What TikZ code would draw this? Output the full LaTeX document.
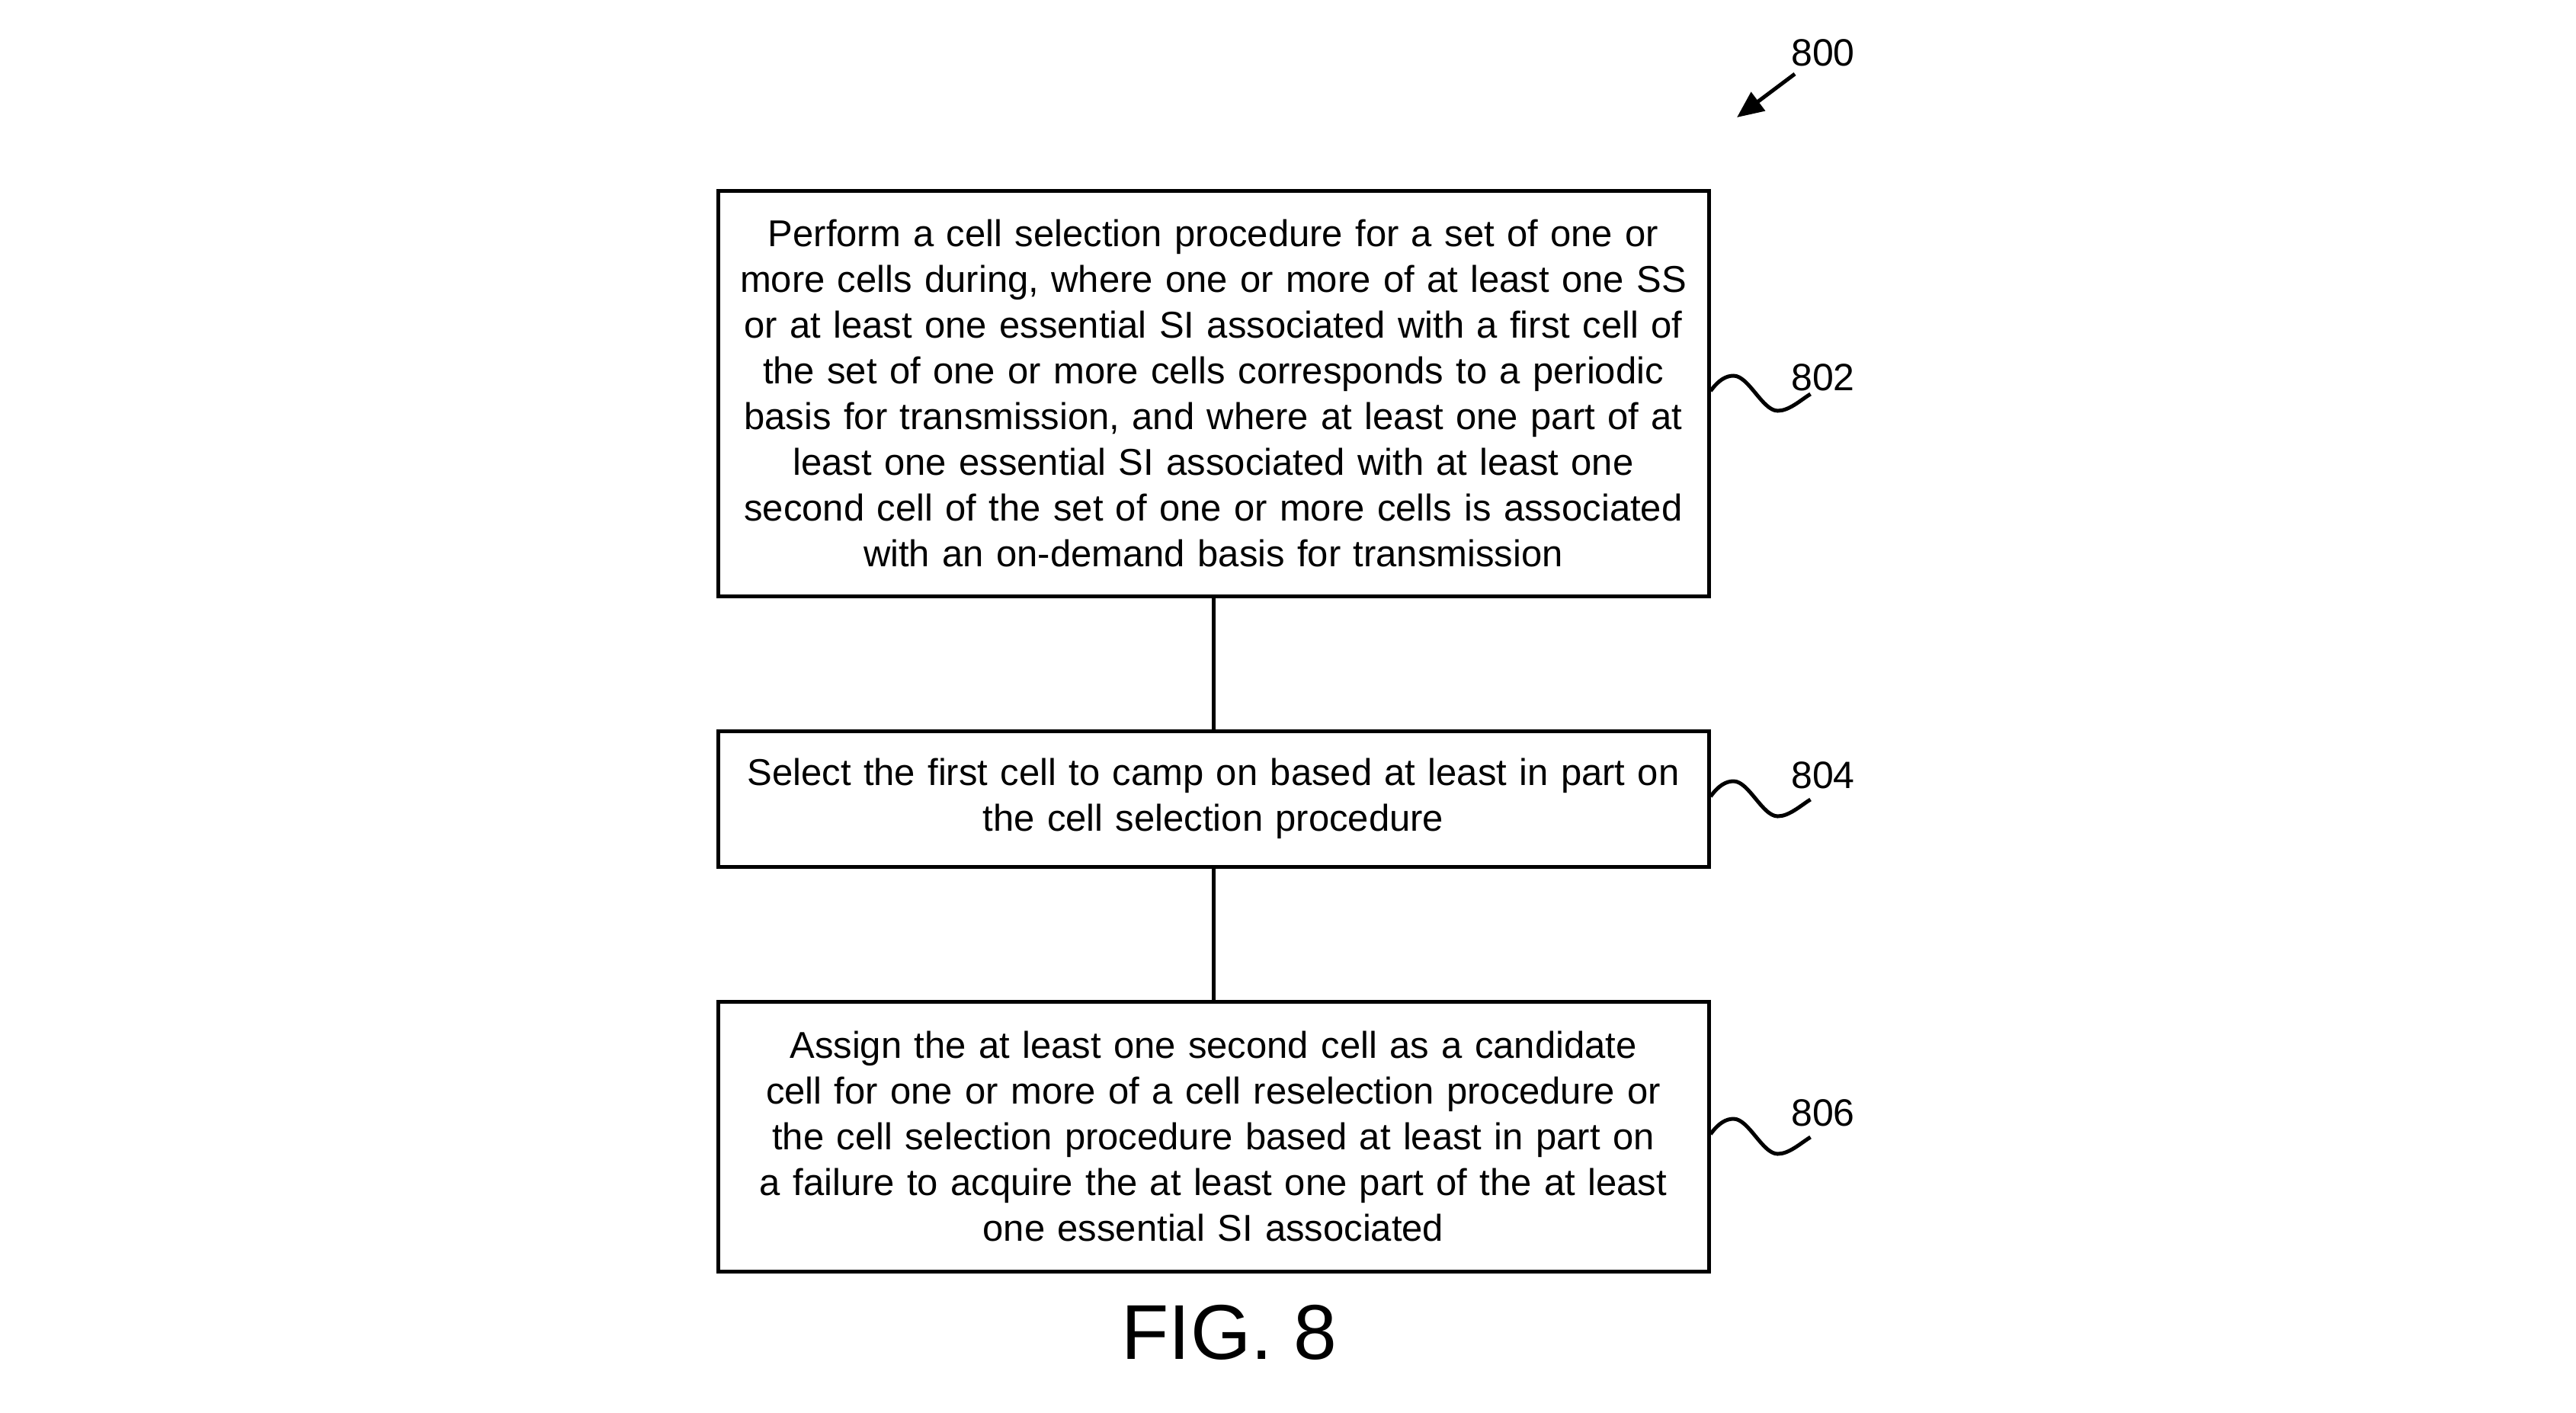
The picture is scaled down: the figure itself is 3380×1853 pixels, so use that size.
\documentclass[tikz,border=0pt]{standalone}
\usepackage{fontspec}
\setmainfont{Liberation Sans}
\usetikzlibrary{arrows.meta}
\tikzset{
  stepbox/.style={draw, line width=1pt, minimum width=260pt, inner sep=0pt, align=center,
    text width=255pt, font=\fontsize{9.8pt}{12pt}\selectfont},
  reflabel/.style={anchor=base, inner sep=0pt, font=\fontsize{10pt}{12pt}\selectfont},
  conn/.style={line width=1pt},
}
\newcommand{\squig}[1]{%
  \draw[conn, shift={([yshift=0.6pt]#1.east)}] (0,0) .. controls (10,-14) and (20,-20) .. (30,-20)
    .. controls (50,-20) and (68,26) .. (88,26) .. controls (103,26) and (118,12) .. (131,4);}
\begin{document}
\begin{tikzpicture}[x=0.2pt, y=-0.2pt]
\useasboundingbox (0,0) rectangle (3380,1853);
\node[stepbox, minimum height=106.4pt] (b1) at (1592,516) {Perform a cell selection procedure for a set of one or\\
more cells during, where one or more of at least one SS\\
or at least one essential SI associated with a first cell of\\
the set of one or more cells corresponds to a periodic\\
basis for transmission, and where at least one part of at\\
least one essential SI associated with at least one\\
second cell of the set of one or more cells is associated\\
with an on-demand basis for transmission};
\node[stepbox, minimum height=35.6pt] (b2) at (1592,1048) {Select the first cell to camp on based at least in part on\\
the cell selection procedure};
\node[stepbox, minimum height=70.8pt] (b3) at (1592,1491) {Assign the at least one second cell as a candidate\\
cell for one or more of a cell reselection procedure or\\
the cell selection procedure based at least in part on\\
a failure to acquire the at least one part of the at least\\
one essential SI associated};
\draw[conn] (b1.south) -- (b2.north);
\draw[conn] (b2.south) -- (b3.north);
\squig{b1}
\squig{b2}
\squig{b3}
\node[reflabel] (l802) at (2392,512) {802};
\node[reflabel] (l804) at (2392,1034) {804};
\node[reflabel] (l806) at (2392,1477) {806};
\node[reflabel] (l800) at (2392,86) {800};
\coordinate (a800s) at (2355,97);
\coordinate (a800e) at (2279,154);
\draw[conn, -{Triangle[length=7pt,width=6pt]}] (a800s) -- (a800e);
\node[anchor=base, inner sep=0pt, font=\fontsize{20.4pt}{24pt}\selectfont] (fig) at (1613,1783) {FIG. 8};
\end{tikzpicture}
\end{document}
